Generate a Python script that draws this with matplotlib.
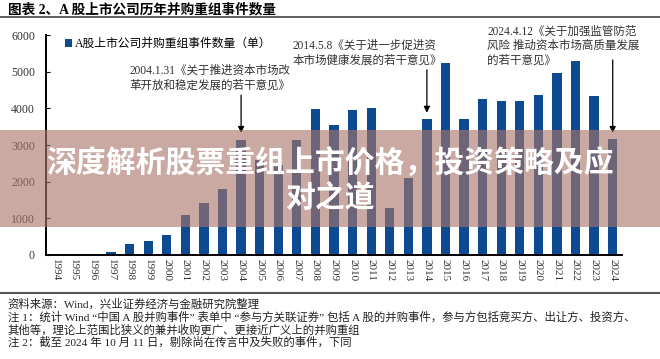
import matplotlib
matplotlib.use("Agg")
import matplotlib.pyplot as plt
from matplotlib.patches import Rectangle
from matplotlib.lines import Line2D

plt.rcParams['font.family'] = ['Liberation Serif', 'Noto Sans CJK SC', 'DejaVu Sans']

years = [str(y) for y in range(1994, 2025)]
deals = [0, 0, 0, 80, 290, 370, 555, 1080, 1430, 1790, 3140, 2600, 2450, 3140, 3970,
         3540, 3950, 4000, 1270, 2110, 3700, 5250, 3700, 4250, 4190, 4210, 4360,
         4960, 5280, 4350, 3160]

series_name = "A股上市公司并购重组事件数量（单）"
title = "图表 2、A 股上市公司历年并购重组事件数量"
overlay_title = "深度解析股票重组上市价格，投资策略及应\n对之道"
notes = [
    "资料来源：Wind，兴业证券经济与金融研究院整理",
    "注 1：统计 Wind “中国 A 股并购事件” 表单中 “参与方关联证券” 包括 A 股的并购事件，参与方包括竞买方、出让方、投资方、",
    "其他等，理论上范围比狭义的兼并收购更广、更接近广义上的并购重组",
    "注 2：截至 2024 年 10 月 11 日，剔除尚在传言中及失败的事件，下同",
]
# (bar index, text, text x, text top, arrow start, arrow end)
events = [
    (10, "2004.1.31《关于推进资本市场改\n革开放和稳定发展的若干意见》", 4.0, 5180, 4360, 3330),
    (20, "2014.5.8《关于进一步促进资\n本市场健康发展的若干意见》", 12.75, 5860, 5050, 3880),
    (30, "2024.4.12《关于加强监管防范\n风险 推动资本市场高质量发展\n的若干意见》", 23.25, 6250, 5320, 3330),
]

blue = "#0e4a92"

fig = plt.figure(figsize=(6.6, 3.59), dpi=100)
ax = fig.add_axes([0.0697, 0.2897, 0.8727, 0.6128])

x = list(range(len(years)))
ax.bar(x, deals, width=0.5, color=blue, label=series_name)
ax.set_xlim(-0.5, len(years) - 0.5)
ax.set_ylim(0, 6000)
ax.set_yticks(range(0, 6001, 1000))
ax.set_xticks(x)
ax.set_xticklabels(years, rotation=270, fontsize=8, color="#333333")
ax.tick_params(axis='y', direction='in', length=3, labelsize=8.5, labelcolor="#333333", pad=8)
ax.tick_params(axis='x', length=0, pad=3)
for s in ['top', 'right']:
    ax.spines[s].set_visible(False)
ax.spines['left'].set_linewidth(1.4)
ax.spines['bottom'].set_linewidth(1.4)

leg = ax.legend(loc='upper left', bbox_to_anchor=(0.015, 1.035), frameon=False, fontsize=8.5,
                handlelength=0.6, handleheight=0.6, handletextpad=0.2)

for idx, txt, tx, ty, a0, a1 in events:
    ax.text(tx, ty, txt, fontsize=8.3, va='top', ha='left', linespacing=1.25,
            color="#333333", clip_on=False)
    ax.annotate("", xy=(idx, a1), xytext=(idx, a0),
                arrowprops=dict(arrowstyle='-|>', color='black', lw=0.9,
                                mutation_scale=9, shrinkA=0, shrinkB=0))

fig.text(0.012, 0.972, title, fontsize=9.8, fontweight='bold', va='center', ha='left')
fig.add_artist(Line2D([0, 1], [0.953, 0.953], color="#444444", lw=1.2))
fig.add_artist(Line2D([0, 1], [0.184, 0.184], color="#555555", lw=1.5))

note_y = [0.153, 0.117, 0.081, 0.046]
for ny, line in zip(note_y, notes):
    fig.text(0.012, ny, line, fontsize=8.2, va='center', ha='left', color="#222222")

# semi-transparent banner across the chart
fig.add_artist(Rectangle((0, 0.368), 1, 0.27, transform=fig.transFigure,
                         facecolor="#a87567", alpha=0.62, edgecolor='none', zorder=10))
fig.text(0.5, 0.497, overlay_title, fontsize=21.5, fontweight='heavy', color='white',
         ha='center', va='center', linespacing=1.18,
         family=['Noto Sans CJK SC', 'DejaVu Sans'], zorder=11)

fig.savefig("out.png", dpi=100)
